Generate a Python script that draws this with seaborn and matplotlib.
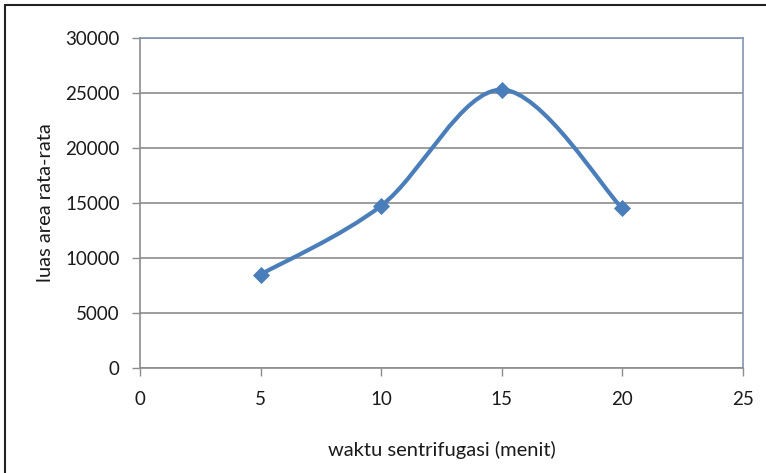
import numpy as np
import matplotlib
matplotlib.use("Agg")
import matplotlib.pyplot as plt
from matplotlib.path import Path
from matplotlib.patches import PathPatch
from matplotlib.lines import Line2D
import seaborn as sns
import pandas as pd

# data
waktu = [5, 10, 15, 20]
luas = [8500, 14750, 25300, 14500]
x_ticks = [0, 5, 10, 15, 20, 25]
y_ticks = [0, 5000, 10000, 15000, 20000, 25000, 30000]
x_label = "waktu sentrifugasi (menit)"
y_label = "luas area rata-rata"

sns.set_theme(style="white")
plt.rcParams['font.family'] = ['Lato', 'DejaVu Sans']

fig = plt.figure(figsize=(7.66, 4.73), dpi=100)
ax = fig.add_axes([140/766, 1-368/473, (743-140)/766, (368-38)/473])

line_col = "#4a7ebb"
text_col = "#1a1a1a"
df = pd.DataFrame({"x": waktu, "y": luas})

# smoothed curve (Excel-like Catmull-Rom Bezier) through data points
pts = np.column_stack([waktu, luas]).astype(float)
n = len(pts)
verts = [tuple(pts[0])]
codes = [Path.MOVETO]
for i in range(n - 1):
    p0 = pts[i - 1] if i > 0 else pts[i]
    p1 = pts[i]
    p2 = pts[i + 1]
    p3 = pts[i + 2] if i + 2 < n else pts[i + 1]
    c1 = p1 + (p2 - p0) / 6.0
    c2 = p2 - (p3 - p1) / 6.0
    verts += [tuple(c1), tuple(c2), tuple(p2)]
    codes += [Path.CURVE4] * 3
patch = PathPatch(Path(verts, codes), facecolor="none", edgecolor=line_col,
                  linewidth=3, transform=ax.transData, zorder=3, capstyle="round")
ax.add_patch(patch)

sns.scatterplot(data=df, x="x", y="y", marker="D", s=65, color=line_col,
                edgecolor=line_col, ax=ax, zorder=4, legend=False)

ax.set_xlim(0, 25)
ax.set_ylim(0, 30000)
ax.set_xticks(x_ticks)
ax.set_yticks(y_ticks)
ax.set_xticklabels([str(v) for v in x_ticks])
ax.set_yticklabels([str(v) for v in y_ticks])
ax.yaxis.grid(True, color="#8c8c8c", linewidth=1.2)
ax.xaxis.grid(False)
ax.set_axisbelow(True)

for s in ["top", "right"]:
    ax.spines[s].set_color("#8096b0")
    ax.spines[s].set_linewidth(1.2)
for s in ["left", "bottom"]:
    ax.spines[s].set_color("#8c8c8c")
    ax.spines[s].set_linewidth(1.2)

ax.tick_params(axis="both", which="major", direction="out", length=5.5, width=1,
               color="#8c8c8c", labelsize=13.5, labelcolor=text_col,
               left=True, bottom=True)
ax.tick_params(axis="x", pad=11)
ax.tick_params(axis="y", pad=9)

ax.set_xlabel(x_label, fontsize=14.5, color=text_col)
ax.set_ylabel(y_label, fontsize=14.5, color=text_col)
ax.xaxis.set_label_coords(0.5, (368 - 441) / 330)
ax.yaxis.set_label_coords((54 - 140) / 603, 0.5)

# outer frame lines (top and left)
fig.add_artist(Line2D([5/766, 1], [1-5/473, 1-5/473], color="#222222", linewidth=1.5,
                      transform=fig.transFigure))
fig.add_artist(Line2D([5/766, 5/766], [0, 1-5/473], color="#222222", linewidth=1.5,
                      transform=fig.transFigure))

fig.savefig("out.png", dpi=100, facecolor="white")
